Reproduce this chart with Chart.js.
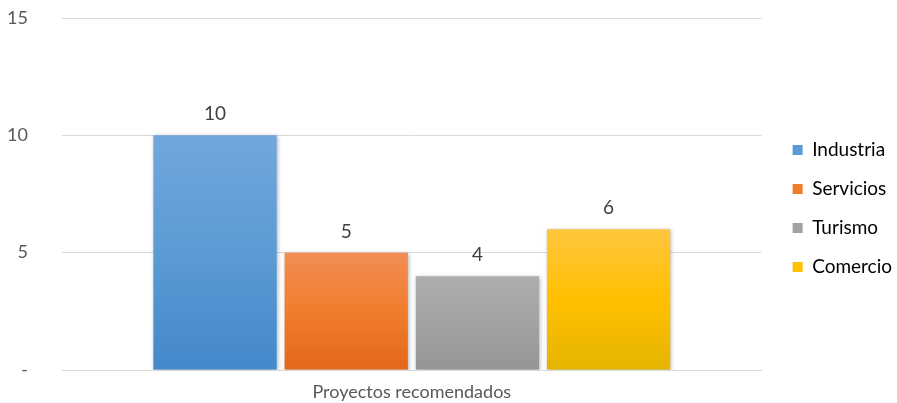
<!DOCTYPE html>
<html>
<head>
<meta charset="utf-8">
<script src="https://cdn.jsdelivr.net/npm/chart.js@4.4.1/dist/chart.umd.min.js"></script>
<style>
  html, body { margin: 0; padding: 0; background: #ffffff; }
  #wrap { width: 897px; height: 403px; position: relative; }
</style>
</head>
<body>
<div id="wrap"><canvas id="c" width="897" height="403"></canvas></div>
<script>
const categories = ['Proyectos recomendados'];
const seriesNames = ['Industria', 'Servicios', 'Turismo', 'Comercio'];
const seriesValues = [10, 5, 4, 6];
const yTicks = [0, 5, 10, 15];
const seriesTop = ['#72A7DD', '#F28D55', '#ADADAD', '#FFC640'];
const seriesMid = ['#5B9BD5', '#F07D2C', '#A3A3A3', '#FFC000'];
const seriesBottom = ['#4388C9', '#E4681A', '#959595', '#E5B400'];

function gradFor(i) {
  return function (ctx) {
    const chart = ctx.chart;
    const area = chart.chartArea;
    if (!area) return seriesMid[i];
    const y = chart.scales.y;
    const top = y.getPixelForValue(seriesValues[i]);
    const bottom = y.getPixelForValue(0);
    const g = chart.ctx.createLinearGradient(0, top, 0, bottom);
    g.addColorStop(0, seriesTop[i]);
    g.addColorStop(0.5, seriesMid[i]);
    g.addColorStop(1, seriesBottom[i]);
    return g;
  };
}

const datasets = seriesNames.map((name, i) => ({
  label: name,
  data: [seriesValues[i]],
  backgroundColor: gradFor(i),
  borderWidth: 0,
  categoryPercentage: 0.75,
  barPercentage: 0.94
}));

const shadowPlugin = {
  id: 'barShadow',
  beforeDatasetsDraw(chart) {
    const c = chart.ctx;
    c.save();
    c.shadowColor = 'rgba(0,0,0,0.28)';
    c.shadowBlur = 4;
    c.shadowOffsetX = 1;
    c.shadowOffsetY = 1;
  },
  afterDatasetsDraw(chart) {
    chart.ctx.restore();
  }
};

const valueLabels = {
  id: 'valueLabels',
  afterDatasetsDraw(chart) {
    const c = chart.ctx;
    c.save();
    c.font = '19px Lato';
    c.fillStyle = '#404040';
    c.textAlign = 'center';
    c.textBaseline = 'middle';
    chart.data.datasets.forEach((ds, i) => {
      const meta = chart.getDatasetMeta(i);
      meta.data.forEach((el, j) => {
        c.fillText(String(ds.data[j]), el.x, el.y - 21);
      });
    });
    c.restore();
  }
};

// widen the legend box (gap between plot and legend) and nudge its items
const LEGEND_EXTRA_W = 6;
const LEGEND_SHIFT_X = 11;
const LEGEND_SHIFT_Y = -2;
const legendGap = {
  id: 'legendGap',
  afterInit(chart) {
    const lg = chart.legend;
    if (!lg || lg._gapPatched) return;
    const origFit = lg.fit.bind(lg);
    lg.fit = function () { origFit(); this.width += LEGEND_EXTRA_W; };
    const origDraw = lg.draw.bind(lg);
    lg.draw = function () {
      const c = this.ctx;
      c.save();
      c.translate(LEGEND_SHIFT_X, LEGEND_SHIFT_Y);
      origDraw();
      c.restore();
    };
    lg._gapPatched = true;
  }
};

new Chart(document.getElementById('c'), {
  type: 'bar',
  data: { labels: categories, datasets: datasets },
  plugins: [shadowPlugin, valueLabels, legendGap],
  options: {
    responsive: false,
    animation: false,
    devicePixelRatio: 1,
    layout: { padding: { top: 18, left: 0, right: 0, bottom: 0 } },
    plugins: {
      legend: {
        position: 'right',
        align: 'center',
        labels: {
          boxWidth: 10,
          boxHeight: 10,
          padding: 20,
          color: '#595959',
          font: { family: 'Lato', size: 19 },
          generateLabels(chart) {
            return chart.data.datasets.map((ds, i) => ({
              text: ds.label,
              fillStyle: seriesMid[i],
              strokeStyle: seriesMid[i],
              lineWidth: 0,
              datasetIndex: i,
              hidden: false
            }));
          }
        }
      },
      tooltip: { enabled: false }
    },
    scales: {
      x: {
        afterFit(scale) { scale.height = 33; scale.paddingTop = 0; scale.paddingBottom = 0; },
        grid: { display: false, drawTicks: false },
        border: { display: true, color: '#D9D9D9', width: 1 },
        ticks: { color: '#595959', font: { family: 'Lato', size: 18 }, padding: 11 }
      },
      y: {
        min: 0,
        max: 15,
        afterBuildTicks(scale) { scale.ticks = yTicks.map(v => ({ value: v })); },
        afterFit(scale) { scale.width = 62; scale.paddingTop = 0; scale.paddingBottom = 0; },
        grid: { color: '#D9D9D9', lineWidth: 1, drawTicks: false },
        border: { display: false },
        ticks: {
          color: '#595959',
          font: { family: 'Lato', size: 18 },
          padding: 34,
          callback(v) { return v === 0 ? '-' : String(v); }
        }
      }
    }
  }
});
</script>
</body>
</html>
